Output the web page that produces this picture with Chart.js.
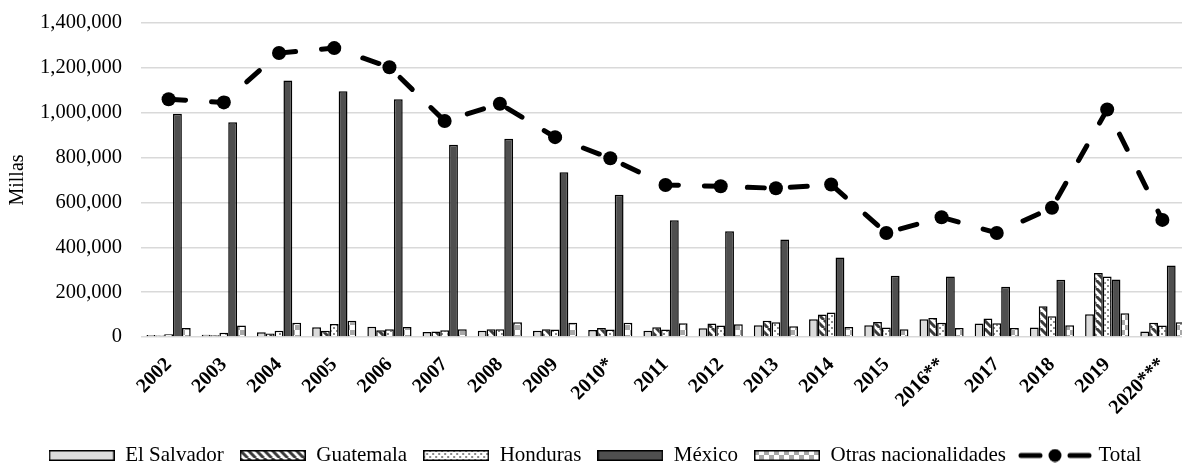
<!DOCTYPE html>
<html>
<head>
<meta charset="utf-8">
<script src="https://cdn.jsdelivr.net/npm/chart.js@4.4.1/dist/chart.umd.min.js"></script>
<style>
  html, body { margin: 0; padding: 0; background: #fff; overflow: hidden; }
  #frame { position: relative; width: 1182px; height: 464px; overflow: hidden; background: #fff; }
  #wrap { position: absolute; left: 0; top: 0; width: 1210px; height: 476px; }
</style>
</head>
<body>
<div id="frame"><div id="wrap"><canvas id="chart" width="1210" height="476"></canvas></div></div>
<script>
// Años fiscales (eventos)
const years = ['2002', '2003', '2004', '2005', '2006', '2007', '2008', '2009', '2010*', '2011',
               '2012', '2013', '2014', '2015', '2016**', '2017', '2018', '2019', '2020***'];

// Eventos por nacionalidad
const elSalvador = [9000, 10000, 21000, 43000, 46000, 22000, 28000, 28000, 31000, 28000,
                    39000, 52000, 79000, 52000, 79000, 60000, 42000, 101000, 24000];
const guatemala  = [7000, 8000, 16000, 28000, 30000, 25000, 34000, 35000, 40000, 43000,
                    60000, 73000, 100000, 67000, 85000, 82000, 137000, 285000, 63000];
const honduras   = [12000, 19000, 28000, 58000, 34000, 30000, 34000, 33000, 33000, 33000,
                    51000, 66000, 109000, 42000, 63000, 61000, 93000, 270000, 51000];
const mexico     = [995000, 958000, 1144000, 1096000, 1060000, 857000, 884000, 735000, 634000, 520000,
                    471000, 435000, 355000, 273000, 270000, 224000, 255000, 256000, 319000];
const otras      = [40000, 51000, 64000, 73000, 45000, 34000, 66000, 64000, 64000, 61000,
                    57000, 48000, 45000, 34000, 40000, 40000, 52000, 106000, 66000];
const total      = [1060000, 1046000, 1266000, 1288000, 1203000, 963000, 1040000, 891000, 797000, 678000,
                    672000, 663000, 680000, 464000, 534000, 464000, 576000, 1014000, 522000];

// Escala del eje vertical
const yMax = 1400000;
const yStep = 200000;

const seriesNames = ['El Salvador', 'Guatemala', 'Honduras', 'México', 'Otras nacionalidades', 'Total'];

const canvas = document.getElementById('chart');
const ctx = canvas.getContext('2d');
const serif = '"Liberation Serif", "Times New Roman", serif';

// Small helper to paint a repeating tile
function tile(w, h, paint) {
  const c = document.createElement('canvas');
  c.width = w; c.height = h;
  paint(c.getContext('2d'));
  return c;
}

// Fill styles for each country series
const fillSalvador = '#dcdcdc';
const fillMexico = '#4f4f4f';
const fillGuatemala = ctx.createPattern(tile(8, 8, g => {
  g.fillStyle = '#ffffff'; g.fillRect(0, 0, 8, 8);
  g.strokeStyle = '#3a3a3a'; g.lineWidth = 3;
  g.beginPath();
  [-8, 0, 8].forEach(o => { g.moveTo(o, 0); g.lineTo(o + 8, 8); });
  g.stroke();
}), 'repeat');
const fillHonduras = ctx.createPattern(tile(6, 6, g => {
  g.fillStyle = '#ffffff'; g.fillRect(0, 0, 6, 6);
  g.fillStyle = '#8a8a8a';
  g.fillRect(0, 0, 2, 2);
  g.fillRect(3, 3, 2, 2);
}), 'repeat');
const fillOtras = ctx.createPattern(tile(10, 10, g => {
  g.fillStyle = '#ffffff'; g.fillRect(0, 0, 10, 10);
  g.fillStyle = '#a8a8a8';
  g.fillRect(0, 0, 5, 5);
  g.fillRect(5, 5, 5, 5);
}), 'repeat');

const barFills = [fillSalvador, fillGuatemala, fillHonduras, fillMexico, fillOtras];

// Legend swatches: wide framed boxes for bars, dash–dot–dash for the total line
function swatch(fill) {
  return tile(66, 11, g => {
    g.fillStyle = fill; g.fillRect(0, 0, 66, 11);
    g.strokeStyle = '#000'; g.lineWidth = 1.5;
    g.strokeRect(0.75, 0.75, 64.5, 9.5);
  });
}
function lineSwatch() {
  return tile(74, 14, g => {
    g.strokeStyle = '#000'; g.lineWidth = 5; g.lineCap = 'round';
    g.beginPath(); g.moveTo(3, 7); g.lineTo(22, 7); g.moveTo(52, 7); g.lineTo(71, 7); g.stroke();
    g.fillStyle = '#000';
    g.beginPath(); g.arc(37, 7, 6.5, 0, Math.PI * 2); g.fill();
  });
}
const legendIcons = [...barFills.map(swatch), lineSwatch()];

const barValues = [elSalvador, guatemala, honduras, mexico, otras];

const datasets = barValues.map((vals, i) => ({
  type: 'bar',
  label: seriesNames[i],
  data: vals,
  backgroundColor: barFills[i],
  borderColor: '#000',
  borderWidth: 1.5,
  categoryPercentage: 0.8,
  barPercentage: 1.0,
  order: 1
}));
datasets.push({
  type: 'line',
  label: seriesNames[5],
  data: total,
  borderColor: '#000',
  borderWidth: 5,
  borderDash: [17, 26],
  borderCapStyle: 'round',
  pointRadius: 7,
  pointHoverRadius: 7,
  pointBackgroundColor: '#000',
  pointBorderColor: '#000',
  pointBorderWidth: 0,
  tension: 0,
  fill: false,
  order: 0
});

new Chart(canvas, {
  data: { labels: years, datasets },
  options: {
    responsive: false,
    animation: false,
    events: [],
    layout: { padding: { top: 23, right: 20, left: 0, bottom: 0 } },
    scales: {
      x: {
        offset: true,
        grid: { display: false },
        border: { display: false },
        ticks: {
          color: '#000',
          font: { family: serif, size: 20, weight: 'bold' },
          minRotation: 45,
          maxRotation: 45,
          autoSkip: false,
          padding: 8
        },
        afterFit: s => { s.height = 92; }
      },
      y: {
        min: 0,
        max: yMax,
        grid: { color: '#d9d9d9', lineWidth: 1.5, drawTicks: false },
        border: { display: false },
        ticks: {
          stepSize: yStep,
          color: '#000',
          padding: 19,
          font: { family: serif, size: 20.5 },
          callback: v => v.toLocaleString('en-US')
        },
        title: {
          display: true,
          text: 'Millas',
          color: '#000',
          font: { family: serif, size: 20 },
          padding: { top: 6, bottom: 0 }
        },
        afterFit: s => {
          s.width = 141;
          s.paddingTop = 12;
          s.paddingBottom = 12;
        }
      }
    },
    plugins: {
      tooltip: { enabled: false },
      legend: {
        position: 'bottom',
        align: 'center',
        labels: {
          usePointStyle: true,
          pointStyleWidth: 66,
          boxHeight: 11,
          padding: 16,
          color: '#000',
          font: { family: serif, size: 21 },
          sort: (a, b) => a.datasetIndex - b.datasetIndex,
          generateLabels: chart => {
            const items = Chart.defaults.plugins.legend.labels.generateLabels(chart);
            items.forEach(it => { it.pointStyle = legendIcons[it.datasetIndex]; });
            return items;
          }
        }
      }
    }
  }
});
</script>
</body>
</html>
